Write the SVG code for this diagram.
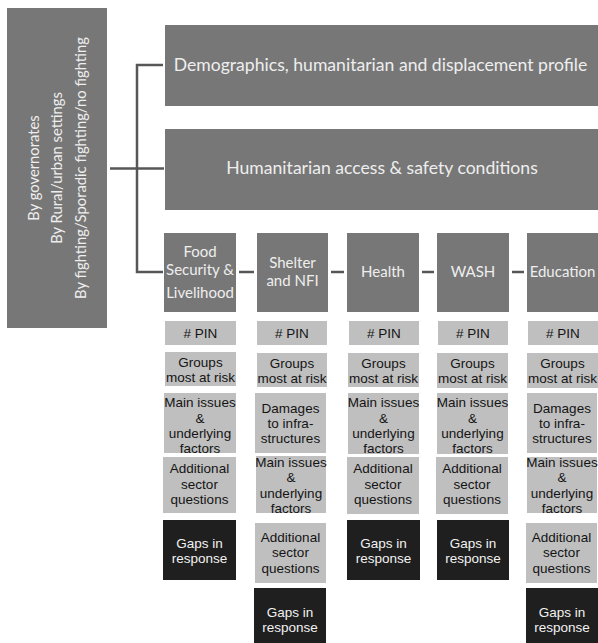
<svg xmlns="http://www.w3.org/2000/svg" width="598" height="643" viewBox="0 0 598 643">
<style>
.dk{fill:#777777}
.lt{fill:#bfbfbf}
.bk{fill:#1f1f1f}
.cal{font-family:Lato,"Open Sans","DejaVu Sans",sans-serif;fill:#eeeeee;text-anchor:middle}
.ar{font-family:"Liberation Sans",Arial,sans-serif;font-size:13.5px;fill:#141414;text-anchor:middle}
.arw{font-family:"Liberation Sans",Arial,sans-serif;font-size:13.5px;fill:#f2f2f2;text-anchor:middle}
.con{fill:none;stroke:#575757;stroke-width:2.5}
</style>
<rect width="598" height="643" fill="#ffffff"/>
<g id="connectors">
<path class="con" d="M110,168.5 H164"/>
<path class="con" d="M163,65 H137 V272 H163"/>
<path class="con" d="M239,272 H254"/>
<path class="con" d="M331,272 H344"/>
<path class="con" d="M422,272 H434"/>
<path class="con" d="M512,272 H524"/>
</g>
<g id="filters">
<rect class="dk" x="7" y="8" width="100" height="320"/>
<text class="cal" font-size="14.8" transform="translate(38.5,168) rotate(-90)">By governorates</text>
<text class="cal" font-size="14.8" transform="translate(62,168) rotate(-90)">By Rural/urban settings</text>
<text class="cal" font-size="14.8" transform="translate(85.5,168) rotate(-90)">By fighting/Sporadic fighting/no fighting</text>
</g>
<g id="demographics">
<rect class="dk" x="165" y="25" width="433" height="81"/>
<text class="cal" font-size="17.6" x="380.5" y="71">Demographics, humanitarian and displacement profile</text>
</g>
<g id="access">
<rect class="dk" x="165" y="129" width="433" height="81"/>
<text class="cal" font-size="17.6" x="382" y="174">Humanitarian access &amp; safety conditions</text>
</g>
<g id="food">
<rect class="dk" x="164" y="233" width="72" height="79"/>
<text class="cal" font-size="15" x="200" y="256.5">Food</text>
<text class="cal" font-size="15" x="200" y="274.5">Security &amp;</text>
<text class="cal" font-size="15" x="200" y="298">Livelihood</text>
<rect class="lt" x="165" y="321" width="71" height="24"/>
<text class="ar" x="200.5" y="337.5"># PIN</text>
<rect class="lt" x="165" y="352" width="71" height="34"/>
<text class="ar" x="200.5" y="366.5">Groups</text>
<text class="ar" x="200.5" y="381.5">most at risk</text>
<rect class="lt" x="164" y="393" width="72" height="60"/>
<text class="ar" x="200" y="407">Main issues</text>
<text class="ar" x="200" y="422.5">&amp;</text>
<text class="ar" x="200" y="438">underlying</text>
<text class="ar" x="200" y="453">factors</text>
<rect class="lt" x="163" y="457" width="73" height="56"/>
<text class="ar" x="199.5" y="473">Additional</text>
<text class="ar" x="199.5" y="488.5">sector</text>
<text class="ar" x="199.5" y="504">questions</text>
<rect class="bk" x="163" y="520" width="73" height="60"/>
<text class="arw" x="199.5" y="547.5">Gaps in</text>
<text class="arw" x="199.5" y="562.5">response</text>
</g>
<g id="shelter">
<rect class="dk" x="257" y="233" width="71" height="79"/>
<text class="cal" font-size="15" x="292.5" y="268">Shelter</text>
<text class="cal" font-size="15" x="292.5" y="286">and NFI</text>
<rect class="lt" x="257" y="321" width="70" height="24"/>
<text class="ar" x="292" y="337.5"># PIN</text>
<rect class="lt" x="257" y="353" width="70" height="34"/>
<text class="ar" x="292" y="367.5">Groups</text>
<text class="ar" x="292" y="382.5">most at risk</text>
<rect class="lt" x="255" y="393" width="71" height="60"/>
<text class="ar" x="290.5" y="412.5">Damages</text>
<text class="ar" x="290.5" y="428">to infra-</text>
<text class="ar" x="290.5" y="443">structures</text>
<rect class="lt" x="256" y="456" width="70" height="57"/>
<text class="ar" x="291" y="467">Main issues</text>
<text class="ar" x="291" y="482">&amp;</text>
<text class="ar" x="291" y="498">underlying</text>
<text class="ar" x="291" y="513">factors</text>
<rect class="lt" x="255" y="523" width="71" height="60"/>
<text class="ar" x="290.5" y="542">Additional</text>
<text class="ar" x="290.5" y="557">sector</text>
<text class="ar" x="290.5" y="572.5">questions</text>
<rect class="bk" x="254" y="588" width="72" height="55"/>
<text class="arw" x="290" y="616.5">Gaps in</text>
<text class="arw" x="290" y="631.5">response</text>
</g>
<g id="health">
<rect class="dk" x="347" y="233" width="72" height="79"/>
<text class="cal" font-size="15" x="383" y="277">Health</text>
<rect class="lt" x="349" y="321" width="70" height="24"/>
<text class="ar" x="384" y="337.5"># PIN</text>
<rect class="lt" x="348" y="353" width="71" height="34"/>
<text class="ar" x="383.5" y="367.5">Groups</text>
<text class="ar" x="383.5" y="382.5">most at risk</text>
<rect class="lt" x="348" y="393" width="71" height="61"/>
<text class="ar" x="383.5" y="407">Main issues</text>
<text class="ar" x="383.5" y="422.5">&amp;</text>
<text class="ar" x="383.5" y="438">underlying</text>
<text class="ar" x="383.5" y="453">factors</text>
<rect class="lt" x="347" y="457" width="72" height="57"/>
<text class="ar" x="383" y="473">Additional</text>
<text class="ar" x="383" y="488.5">sector</text>
<text class="ar" x="383" y="504">questions</text>
<rect class="bk" x="347" y="520" width="73" height="60"/>
<text class="arw" x="383.5" y="547.5">Gaps in</text>
<text class="arw" x="383.5" y="562.5">response</text>
</g>
<g id="wash">
<rect class="dk" x="437" y="233" width="72" height="79"/>
<text class="cal" font-size="15" x="473" y="277">WASH</text>
<rect class="lt" x="438" y="321" width="70" height="24"/>
<text class="ar" x="473" y="337.5"># PIN</text>
<rect class="lt" x="437" y="353" width="71" height="35"/>
<text class="ar" x="472.5" y="367.5">Groups</text>
<text class="ar" x="472.5" y="382.5">most at risk</text>
<rect class="lt" x="437" y="393" width="71" height="61"/>
<text class="ar" x="472.5" y="407">Main issues</text>
<text class="ar" x="472.5" y="422.5">&amp;</text>
<text class="ar" x="472.5" y="438">underlying</text>
<text class="ar" x="472.5" y="453">factors</text>
<rect class="lt" x="436" y="457" width="72" height="57"/>
<text class="ar" x="472" y="473">Additional</text>
<text class="ar" x="472" y="488.5">sector</text>
<text class="ar" x="472" y="504">questions</text>
<rect class="bk" x="437" y="520" width="72" height="60"/>
<text class="arw" x="473" y="547.5">Gaps in</text>
<text class="arw" x="473" y="562.5">response</text>
</g>
<g id="education">
<rect class="dk" x="527" y="233" width="71" height="79"/>
<text class="cal" font-size="15" x="562.5" y="277">Education</text>
<rect class="lt" x="528" y="321" width="70" height="24"/>
<text class="ar" x="563" y="337.5"># PIN</text>
<rect class="lt" x="527" y="353" width="71" height="35"/>
<text class="ar" x="562.5" y="367.5">Groups</text>
<text class="ar" x="562.5" y="382.5">most at risk</text>
<rect class="lt" x="527" y="393" width="70" height="60"/>
<text class="ar" x="562" y="412.5">Damages</text>
<text class="ar" x="562" y="428">to infra-</text>
<text class="ar" x="562" y="443">structures</text>
<rect class="lt" x="527" y="457" width="70" height="56"/>
<text class="ar" x="562" y="467">Main issues</text>
<text class="ar" x="562" y="482">&amp;</text>
<text class="ar" x="562" y="498">underlying</text>
<text class="ar" x="562" y="513">factors</text>
<rect class="lt" x="526" y="523" width="71" height="60"/>
<text class="ar" x="561.5" y="542">Additional</text>
<text class="ar" x="561.5" y="557">sector</text>
<text class="ar" x="561.5" y="572.5">questions</text>
<rect class="bk" x="526" y="588" width="72" height="55"/>
<text class="arw" x="562" y="616.5">Gaps in</text>
<text class="arw" x="562" y="631.5">response</text>
</g>
</svg>
